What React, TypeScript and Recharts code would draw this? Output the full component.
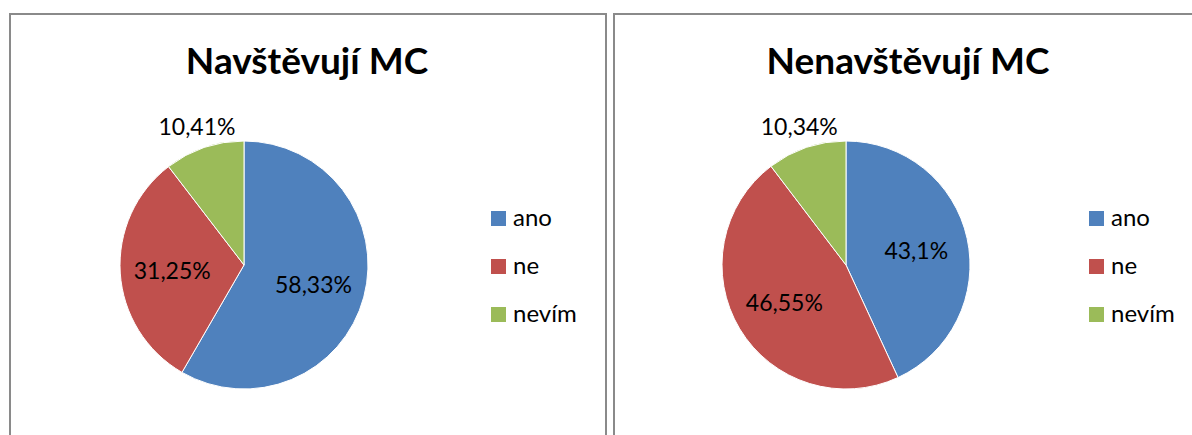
import React from "react";
import { PieChart, Pie, Cell, Legend } from "recharts";

const categories = ["ano", "ne", "nevím"];
const colors = ["#4F81BD", "#C0504D", "#9BBB59"];
const navstevujiValues = [58.33, 31.25, 10.41];
const nenavstevujiValues = [43.1, 46.55, 10.34];
const titles = ["Navštěvují MC", "Nenavštěvují MC"];

const FONT = "Lato, 'Open Sans', sans-serif";
const RADIAN = Math.PI / 180;

const fmt = (v: number) => String(v).replace(".", ",") + "%";

const renderLabel = (props: any) => {
  const { cx, cy, midAngle, outerRadius, percent, value } = props;
  const outside = percent < 0.15;
  const r = outerRadius * (outside ? 1.18 : 0.58);
  const x = cx + r * Math.cos(-midAngle * RADIAN);
  const y = cy + r * Math.sin(-midAngle * RADIAN);
  return (
    <text
      x={x}
      y={y}
      textAnchor="middle"
      dominantBaseline="central"
      fontFamily={FONT}
      fontSize={23}
      fill="#000"
    >
      {fmt(value)}
    </text>
  );
};

const renderLegend = (props: any) => {
  const payload = props.payload || [];
  return (
    <svg width={110} height={140} style={{ overflow: "visible" }}>
      {payload.map((p: any, i: number) => (
        <g key={i}>
          <rect x={0} y={i * 48} width={15} height={15} fill={p.color} />
          <text x={22} y={i * 48 + 15} fontFamily={FONT} fontSize={24} fill="#000">
            {p.value}
          </text>
        </g>
      ))}
    </svg>
  );
};

type PanelProps = {
  left: number;
  title: string;
  values: number[];
  cx: number;
  titleX: number;
  legendX: number;
};

const Panel = ({ left, title, values, cx, titleX, legendX }: PanelProps) => {
  const data = categories.map((c, i) => ({ name: c, value: values[i] }));
  return (
    <div
      style={{
        position: "absolute",
        left,
        top: 13,
        width: 598,
        height: 440,
        border: "2px solid #8a8a8a",
        boxSizing: "border-box",
        background: "#fff",
      }}
    >
      <svg
        width={594}
        height={90}
        style={{ position: "absolute", left: 0, top: 0 }}
      >
        <text
          x={titleX}
          y={59}
          textAnchor="middle"
          fontFamily={FONT}
          fontWeight="bold"
          fontSize={37}
          fill="#000"
        >
          {title}
        </text>
      </svg>
      <div style={{ position: "absolute", left: 0, top: 0 }}>
        <PieChart width={594} height={420} margin={{ top: 0, right: 0, bottom: 0, left: 0 }}>
          <Pie
            data={data}
            dataKey="value"
            nameKey="name"
            cx={cx}
            cy={250}
            outerRadius={124}
            startAngle={90}
            endAngle={-270}
            stroke="#fff"
            strokeWidth={1}
            label={renderLabel}
            labelLine={false}
            isAnimationActive={false}
          >
            {data.map((d, i) => (
              <Cell key={d.name} fill={colors[i]} />
            ))}
          </Pie>
          <Legend
            content={renderLegend}
            wrapperStyle={{ position: "absolute", left: legendX, top: 196, width: 110 }}
          />
        </PieChart>
      </div>
    </div>
  );
};

export default function App() {
  return (
    <div
      style={{
        position: "absolute",
        left: 0,
        top: 0,
        width: 1192,
        height: 435,
        overflow: "hidden",
        background: "#fff",
      }}
    >
      <Panel left={9} title={titles[0]} values={navstevujiValues} cx={233} titleX={296} legendX={480} />
      <Panel left={613} title={titles[1]} values={nenavstevujiValues} cx={231} titleX={293} legendX={474} />
    </div>
  );
}
